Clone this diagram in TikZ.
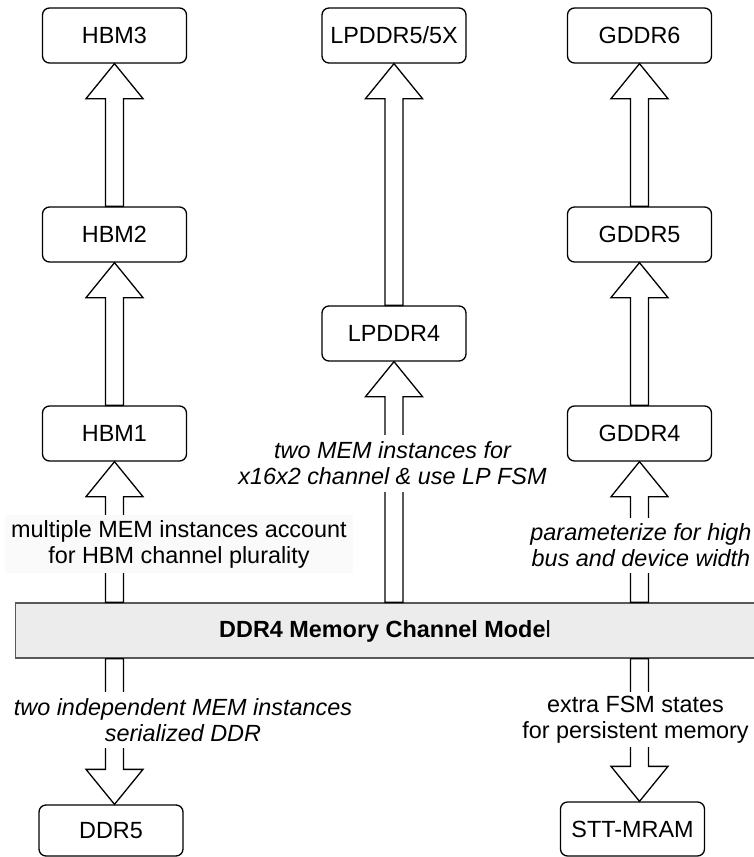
\documentclass[tikz,border=0pt]{standalone}
\usepackage{fontspec}
\setmainfont{Liberation Sans}
\usetikzlibrary{calc}

\tikzset{
  basefont/.style={font=\fontsize{23.4}{26}\selectfont},
  mem/.style={basefont, draw=black, line width=1.3pt, rounded corners=7pt,
    fill=white, minimum width=144pt, minimum height=55pt, inner sep=0pt},
  blk/.style={draw=black, fill=white, line width=1.3pt, line join=miter},
  note/.style={basefont, fill=white, inner xsep=3pt, inner ysep=0pt, align=center},
  bus/.style={draw=black!65, fill=black!7.5, line width=1.3pt, inner sep=0pt},
}

% hollow block arrows: shaft 18, head 57 wide and 35 long
\newcommand\blkup[2]{%
  \path[blk] let \p1=#1, \p2=#2 in
    (\x1-9pt,\y1) -- (\x1-9pt,\y2-35pt) -- (\x1-28.5pt,\y2-35pt) -- (\x1,\y2)
    -- (\x1+28.5pt,\y2-35pt) -- (\x1+9pt,\y2-35pt) -- (\x1+9pt,\y1) -- cycle;}
\newcommand\blkdown[2]{%
  \path[blk] let \p1=#1, \p2=#2 in
    (\x1-9pt,\y1) -- (\x1-9pt,\y2+35pt) -- (\x1-28.5pt,\y2+35pt) -- (\x1,\y2)
    -- (\x1+28.5pt,\y2+35pt) -- (\x1+9pt,\y2+35pt) -- (\x1+9pt,\y1) -- cycle;}

\begin{document}
\begin{tikzpicture}[x=1pt,y=-1pt]
\path[use as bounding box, clip] (0,0) rectangle (754,857);

% memory standards
\node[mem] (hbm3) at (114.5,35.5) {HBM3};
\node[mem] (hbm2) at (114.5,234.5) {HBM2};
\node[mem] (hbm1) at (114.5,433.5) {HBM1};
\node[mem] (lp5)  at (394,35.5)  {LPDDR5/5X};
\node[mem] (lp4)  at (394,333.5) {LPDDR4};
\node[mem] (g6)   at (639.5,35.5)  {GDDR6};
\node[mem] (g5)   at (639.5,234.5) {GDDR5};
\node[mem] (g4)   at (639.5,433.5) {GDDR4};
\node[mem, minimum height=51pt] (ddr5) at (111,830.5) {DDR5};
\node[mem, minimum height=54pt] (stt)  at (632.5,829) {STT-MRAM};

% base model bar
\node[bus, minimum width=790pt, minimum height=55pt, anchor=west] (bar) at (15,630.5) {};
\node[basefont] (bartext) at (385,631) {\textbf{DDR4 Memory Channel Mode}l};

% derivation arrows
\blkup{(bar.north -| hbm1)}{(hbm1.south)}
\blkup{(hbm1.north)}{(hbm2.south)}
\blkup{(hbm2.north)}{(hbm3.south)}
\blkup{(bar.north -| lp4)}{(lp4.south)}
\blkup{(lp4.north)}{(lp5.south)}
\blkup{(bar.north -| g4)}{(g4.south)}
\blkup{(g4.north)}{(g5.south)}
\blkup{(g5.north)}{(g6.south)}
\blkdown{(bar.south -| hbm1)}{(ddr5.north -| hbm1)}
\blkdown{(bar.south -| g4)}{(stt.north -| g4)}

% arrow labels
\node[note, fill=black!2, inner xsep=6pt, minimum height=58pt] (lhbm) at (179,544)
  {multiple MEM instances account\\for HBM channel plurality};
\node[note, minimum height=57pt] (llp) at (392.5,463.5)
  {\itshape two MEM instances for\\\itshape x16x2 channel \& use LP FSM};
\node[note, minimum height=55pt] (lg) at (641,545.5)
  {\itshape parameterize for high\\\itshape bus and device width};
\node[note, minimum height=56pt] (lddr) at (183,720)
  {\itshape two independent MEM instances\\\itshape serialized DDR};
\node[note, minimum height=55pt] (lstt) at (635.5,719.5)
  {extra FSM states\\for persistent memory};
\end{tikzpicture}
\end{document}
